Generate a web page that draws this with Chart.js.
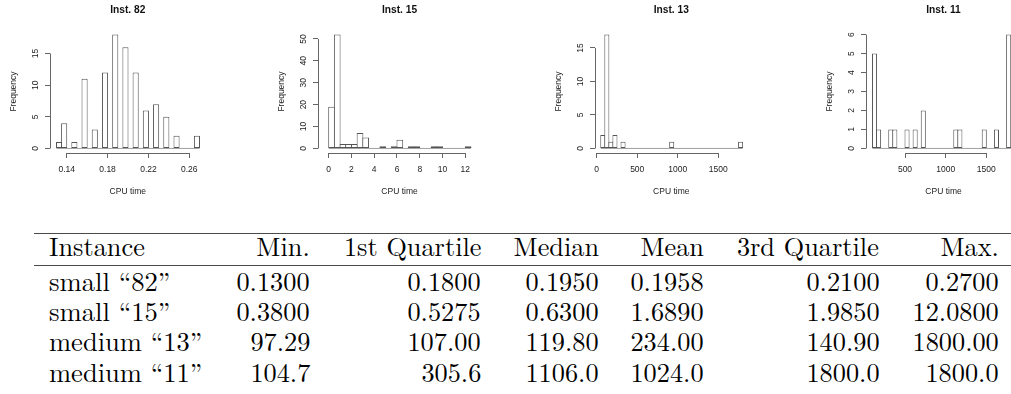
<!DOCTYPE html>
<html><head><meta charset="utf-8">
<script src="https://cdn.jsdelivr.net/npm/chart.js@4.4.1/dist/chart.umd.min.js"></script>
<style>
html,body{margin:0;padding:0;background:#fff;}
#page{position:relative;width:1011px;height:394px;overflow:hidden;background:#fff;}
canvas.h{position:absolute;top:0;}
.rule{position:absolute;left:34px;width:985px;background:#4a4a4a;}
.cell{position:absolute;color:#000;white-space:nowrap;}
.cell span{display:inline-block;}
</style></head><body><div id="page"></div>
<script>
// ---------------- data ----------------
const titles = ['Inst. 82', 'Inst. 15', 'Inst. 13', 'Inst. 11'];

// histogram bins: first break, bin width, counts per bin
const binStart82 = 0.13, binWidth82 = 0.005;
const counts82 = [1,4,0,1,0,11,0,3,0,12,0,18,0,16,0,12,0,6,0,7,0,5,0,2,0,0,0,2];
const xTicks82 = [0.14, 0.18, 0.22, 0.26];
const yTicks82 = [0, 5, 10, 15];

const binStart15 = 0, binWidth15 = 0.5;
const counts15 = [19,52,2,2,2,7,5,0,0,1,0,1,4,0,1,1,0,0,1,1,0,0,0,0,1];
const xTicks15 = [0, 2, 4, 6, 8, 10, 12];
const yTicks15 = [0, 10, 20, 30, 40, 50];

const binStart13 = 50, binWidth13 = 50;
const counts13 = [2,17,1,2,0,1,0,0,0,0,0,0,0,0,0,0,0,1,0,0,0,0,0,0,0,0,0,0,0,0,0,0,0,0,1];
const xTicks13 = [0, 500, 1000, 1500];
const yTicks13 = [0, 5, 10, 15];

const binStart11 = 100, binWidth11 = 50;
const counts11 = [5,1,0,0,1,1,0,0,1,0,1,0,2,0,0,0,0,0,0,0,1,1,0,0,0,0,0,1,0,0,1,0,0,6];
const xTicks11 = [500, 1000, 1500];
const yTicks11 = [0, 1, 2, 3, 4, 5, 6];

const xAxisLabel = 'CPU time';
const yAxisLabel = 'Frequency';

// summary table
const tableHeader = ['Instance', 'Min.', '1st Quartile', 'Median', 'Mean', '3rd Quartile', 'Max.'];
const tableInstances = ['small “82”', 'small “15”', 'medium “13”', 'medium “11”'];
const colMin    = ['0.1300', '0.3800', '97.29', '104.7'];
const colQ1     = ['0.1800', '0.5275', '107.00', '305.6'];
const colMedian = ['0.1950', '0.6300', '119.80', '1106.0'];
const colMean   = ['0.1958', '1.6890', '234.00', '1024.0'];
const colQ3     = ['0.2100', '1.9850', '140.90', '1800.0'];
const colMax    = ['0.2700', '12.0800', '1800.00', '1800.0'];

// ---------------- layout ----------------
const page = document.getElementById('page');
const FONT = '"Liberation Sans", Arial, Helvetica, sans-serif';
const TEXT = '#222', AXIS = '#666', BAR = '#555', BASE = '#a0a0a0';
const CA_LEFT = 50, CA_TOP = 30, CA_BOTTOM = 153, CW = 280, CH = 200;
const LBL = 8.5, TTL = 10.2;

const panels = [
  {title: titles[0], start: binStart82, width: binWidth82, counts: counts82, xTicks: xTicks82, yTicks: yTicks82, left: 50,  plotW: 155.6, xMin: 0.12365, xMax: 0.27595},
  {title: titles[1], start: binStart15, width: binWidth15, counts: counts15, xTicks: xTicks15, yTicks: yTicks15, left: 318, plotW: 163,   xMin: -0.940,  xMax: 13.38},
  {title: titles[2], start: binStart13, width: binWidth13, counts: counts13, xTicks: xTicks13, yTicks: yTicks13, left: 595, plotW: 152.6, xMin: -21,     xMax: 1861.3},
  {title: titles[3], start: binStart11, width: binWidth11, counts: counts11, xTicks: xTicks11, yTicks: yTicks11, left: 866, plotW: 155,   xMin: 20.3,    xMax: 1926.8}
];

function alignPx(v){ return Math.round(v - 0.5) + 0.5; }

const rAxisLines = {
  id: 'rAxisLines',
  afterDraw(chart) {
    const {ctx, chartArea} = chart;
    const xs = chart.scales.x, ys = chart.scales.y;
    ctx.save();
    ctx.strokeStyle = AXIS; ctx.lineWidth = 1;
    const yb = alignPx(chartArea.bottom);
    ctx.beginPath();
    ctx.moveTo(xs.getPixelForValue(xs.ticks[0].value), yb);
    ctx.lineTo(xs.getPixelForValue(xs.ticks[xs.ticks.length - 1].value), yb);
    ctx.stroke();
    const xl = alignPx(chartArea.left);
    ctx.beginPath();
    ctx.moveTo(xl, ys.getPixelForValue(ys.ticks[0].value));
    ctx.lineTo(xl, ys.getPixelForValue(ys.ticks[ys.ticks.length - 1].value));
    ctx.stroke();
    ctx.restore();
  }
};

const mctx = document.createElement('canvas').getContext('2d');
mctx.font = LBL + 'px ' + FONT;

panels.forEach((p) => {
  const cv = document.createElement('canvas');
  cv.className = 'h';
  cv.width = CW; cv.height = CH;
  cv.style.left = (p.left - CA_LEFT) + 'px';
  cv.style.width = CW + 'px'; cv.style.height = CH + 'px';
  page.appendChild(cv);

  const maxC = Math.max(...p.counts);
  const bars = p.counts.map((c, i) => ({x: p.start + (i + 0.5) * p.width, y: c}));
  const lastBreak = p.start + p.counts.length * p.width;
  const binPx = p.width * p.plotW / (p.xMax - p.xMin);
  const widest = Math.max(...p.yTicks.map(v => mctx.measureText(String(v)).width));

  new Chart(cv, {
    data: {
      datasets: [
        {type: 'line', data: [{x: p.start, y: 0}, {x: lastBreak, y: 0}], borderColor: BASE, borderWidth: 1,
         pointRadius: 0, fill: false, order: 2},
        {type: 'bar', data: bars, backgroundColor: '#ffffff', borderColor: BAR, borderWidth: 1,
         borderSkipped: false, barThickness: binPx + 1, inflateAmount: 0, order: 1}
      ]
    },
    options: {
      responsive: false, animation: false, devicePixelRatio: 1,
      events: [],
      layout: {autoPadding: false, padding: {left: 0, top: 0, right: CW - CA_LEFT - p.plotW, bottom: 0}},
      plugins: {
        legend: {display: false}, tooltip: {enabled: false},
        title: {display: true, text: p.title, fullSize: false, color: '#111',
                font: {family: FONT, size: TTL, weight: 'bold', lineHeight: 1.2},
                padding: {top: 4.2, bottom: CA_TOP - 4.2 - TTL * 1.2}}
      },
      scales: {
        x: {
          type: 'linear', position: 'bottom', min: p.xMin, max: p.xMax, offset: false, bounds: 'data',
          afterBuildTicks: s => { s.ticks = p.xTicks.map(v => ({value: v})); },
          afterFit: s => { s.height = CH - CA_BOTTOM; s.paddingLeft = 0; s.paddingRight = 0; },
          ticks: {autoSkip: false, minRotation: 0, maxRotation: 0, padding: 6.2, color: TEXT,
                  font: {family: FONT, size: LBL, lineHeight: 1.2}, callback: v => String(v)},
          grid: {drawOnChartArea: false, drawTicks: true, tickLength: 5, color: AXIS, lineWidth: 1, offset: false},
          border: {display: false},
          title: {display: true, text: xAxisLabel, color: TEXT, font: {family: FONT, size: LBL, lineHeight: 1.2},
                  padding: {top: 0, bottom: 3.6}}
        },
        y: {
          type: 'linear', position: 'left', min: -0.04 * maxC, max: 1.04 * maxC, bounds: 'data',
          afterBuildTicks: s => { s.ticks = p.yTicks.map(v => ({value: v})); },
          afterFit: s => { s.width = CA_LEFT; s.paddingTop = 0; s.paddingBottom = 0; },
          ticks: {autoSkip: false, minRotation: 90, maxRotation: 90, crossAlign: 'center',
                  padding: 9.5 - widest / 2, color: TEXT, font: {family: FONT, size: LBL, lineHeight: 1.2},
                  callback: v => String(v)},
          grid: {drawOnChartArea: false, drawTicks: true, tickLength: 5, color: AXIS, lineWidth: 1},
          border: {display: false},
          title: {display: true, text: yAxisLabel, color: TEXT, font: {family: FONT, size: LBL, lineHeight: 1.2},
                  padding: {top: 8.9, bottom: 0}}
        }
      }
    },
    plugins: [rAxisLines]
  });
});

// ---------------- table ----------------
// pick an installed serif face
function hasFont(name){
  const c = document.createElement('canvas').getContext('2d');
  const s = 'Instance 0.1300 Quartile medium';
  for (const base of ['monospace', 'sans-serif']) {
    c.font = '40px ' + base; const w0 = c.measureText(s).width;
    c.font = '40px "' + name + '", ' + base; const w1 = c.measureText(s).width;
    if (Math.abs(w0 - w1) < 0.01) return false;
  }
  return true;
}
const serifCandidates = ['Latin Modern Roman', 'CMU Serif', 'Liberation Serif', 'Tinos', 'DejaVu Serif',
                         'Noto Serif', 'FreeSerif', 'Nimbus Roman', 'Times New Roman', 'Georgia'];
let TFONT = 'Liberation Sans';
for (const f of serifCandidates) { if (hasFont(f)) { TFONT = f; break; } }
const TFAMILY = '"' + TFONT + '", serif';

// Computer-Modern-like advance widths (em), used to size each cell like the reference
const CMW = {'0':.5,'1':.5,'2':.5,'3':.5,'4':.5,'5':.5,'6':.5,'7':.5,'8':.5,'9':.5,'.':.278,' ':.333,
  'I':.361,'M':.917,'Q':.778,'a':.5,'c':.444,'d':.556,'e':.444,'i':.278,'l':.278,'m':.833,'n':.556,
  'r':.392,'s':.394,'t':.389,'u':.556,'x':.528,'“':.5,'”':.5};
const EM = 26.3, CAP = 18.0;
const mt = document.createElement('canvas').getContext('2d');
mt.font = '100px ' + TFAMILY;
const mH = mt.measureText('H');
const capRatio = (mH.actualBoundingBoxAscent || 70) / 100;
const ascR = (mH.fontBoundingBoxAscent || 89) / 100, descR = (mH.fontBoundingBoxDescent || 22) / 100;
const FS = CAP / capRatio;
const BASE_OFF = (FS - (ascR + descR) * FS) / 2 + ascR * FS;

const INSTANCE_LEFT = 49.3;
const COL_RIGHT = [0, 310, 481, 599, 704, 879.3, 999];
const HEADER_BASELINE = 256.7;
const ROW_BASELINES = [291.3, 321.5, 351.6, 382];

function addRule(top, h){
  const d = document.createElement('div'); d.className = 'rule';
  d.style.top = top + 'px'; d.style.height = h + 'px'; page.appendChild(d);
}
addRule(232.6, 1.4);
addRule(265.2, 1.0);

function addCell(text, col, baseline){
  const d = document.createElement('div'); d.className = 'cell';
  d.style.fontFamily = TFAMILY;
  d.style.fontSize = FS + 'px';
  d.style.lineHeight = FS + 'px';
  d.style.top = (baseline - BASE_OFF) + 'px';
  const s = document.createElement('span'); s.textContent = text;
  if (col === 0) {
    d.style.left = INSTANCE_LEFT + 'px';
    s.style.transformOrigin = 'left center';
  } else {
    d.style.left = '0px'; d.style.width = COL_RIGHT[col] + 'px'; d.style.textAlign = 'right';
    s.style.transformOrigin = 'right center';
  }
  d.appendChild(s); page.appendChild(d);
  const target = [...text].reduce((a, ch) => a + (CMW[ch] !== undefined ? CMW[ch] : .5), 0) * EM;
  const w = s.getBoundingClientRect().width;
  if (w > 0) s.style.transform = 'scaleX(' + (target / w) + ')';
}
tableHeader.forEach((h, c) => addCell(h, c, HEADER_BASELINE));
const cols = [tableInstances, colMin, colQ1, colMedian, colMean, colQ3, colMax];
ROW_BASELINES.forEach((b, r) => {
  cols.forEach((col, c) => addCell(col[r], c, b));
});
</script>
</body></html>
